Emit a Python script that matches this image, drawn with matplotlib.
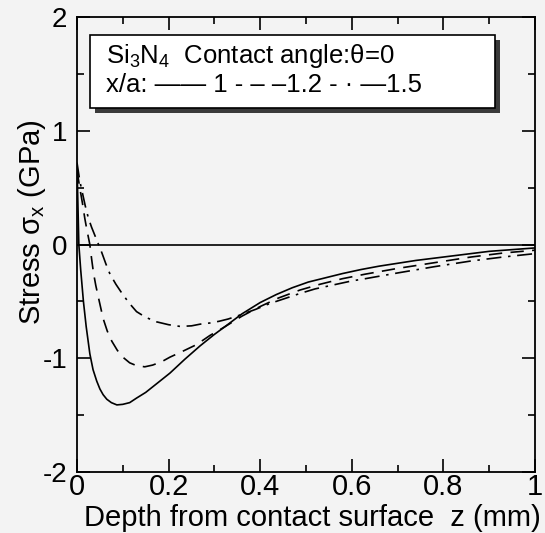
import numpy as np
import matplotlib.pyplot as plt
from matplotlib.patches import Rectangle
from matplotlib.ticker import MultipleLocator, FuncFormatter

plt.rcParams['font.family'] = ['Liberation Sans', 'DejaVu Sans']
plt.rcParams['axes.unicode_minus'] = False
plt.rcParams['mathtext.fontset'] = 'custom'
plt.rcParams['mathtext.rm'] = 'Liberation Sans'
plt.rcParams['mathtext.it'] = 'Liberation Sans'

# x/a = 1 (solid)
z1 = [0, 0.002, 0.004, 0.008, 0.014, 0.02, 0.028, 0.035, 0.043, 0.05, 0.057,
      0.065, 0.075, 0.087, 0.10, 0.115, 0.13, 0.15, 0.175, 0.203, 0.235, 0.269,
      0.30, 0.327, 0.36, 0.40, 0.435, 0.47, 0.505, 0.545, 0.58, 0.62, 0.66,
      0.70, 0.74, 0.78, 0.82, 0.86, 0.90, 0.95, 1.0]
s1 = [0.7, 0.35, 0.0, -0.22, -0.50, -0.72, -0.96, -1.10, -1.20, -1.27, -1.32,
      -1.36, -1.39, -1.41, -1.405, -1.39, -1.35, -1.30, -1.22, -1.13, -1.01, -0.89,
      -0.79, -0.71, -0.61, -0.51, -0.44, -0.38, -0.33, -0.29, -0.255, -0.22, -0.19,
      -0.165, -0.14, -0.12, -0.10, -0.08, -0.06, -0.045, -0.03]

# x/a = 1.2 (dashed)
z2 = [0, 0.006, 0.012, 0.017, 0.022, 0.028, 0.032, 0.036, 0.041, 0.047, 0.057,
      0.066, 0.076, 0.088, 0.10, 0.115, 0.13, 0.148, 0.165, 0.185, 0.203, 0.23,
      0.261, 0.29, 0.32, 0.36, 0.40, 0.44, 0.487, 0.53, 0.58, 0.63, 0.70, 0.78,
      0.86, 0.93, 1.0]
s2 = [0.65, 0.5, 0.36, 0.23, 0.12, 0.0, -0.13, -0.25, -0.36, -0.47, -0.65,
      -0.76, -0.85, -0.93, -0.99, -1.04, -1.065, -1.075, -1.06, -1.03, -0.99, -0.94,
      -0.88, -0.80, -0.73, -0.63, -0.545, -0.47, -0.40, -0.35, -0.30, -0.26, -0.21, -0.16,
      -0.11, -0.075, -0.05]

# x/a = 1.5 (dash-dot)
z3 = [0, 0.006, 0.012, 0.018, 0.025, 0.032, 0.039, 0.046, 0.054, 0.063, 0.072,
      0.085, 0.10, 0.115, 0.13, 0.15, 0.174, 0.2, 0.225, 0.25, 0.269, 0.29, 0.31,
      0.33, 0.356, 0.39, 0.42, 0.45, 0.487, 0.52, 0.56, 0.60, 0.63, 0.70, 0.78,
      0.86, 0.93, 1.0]
s3 = [0.72, 0.56, 0.45, 0.34, 0.23, 0.15, 0.08, 0.01, -0.07, -0.17, -0.26,
      -0.35, -0.44, -0.52, -0.59, -0.64, -0.68, -0.705, -0.72, -0.715, -0.70, -0.69, -0.675,
      -0.655, -0.62, -0.57, -0.52, -0.48, -0.43, -0.39, -0.355, -0.32, -0.30, -0.25, -0.195,
      -0.145, -0.11, -0.08]

bg = '#f3f3f3'
fig = plt.figure(figsize=(5.45, 5.33), dpi=100, facecolor=bg)
ax = fig.add_axes([0.1413, 0.1144, 0.8404, 0.8537])
ax.set_facecolor(bg)

ax.axhline(0, color='black', lw=1.2)
ax.plot(z1, s1, color='black', lw=1.2)
ax.plot(z2, s2, color='black', lw=1.2, dashes=(8, 5))
ax.plot(z3, s3, color='black', lw=1.2, dashes=(9, 4, 1.5, 4))

ax.set_xlim(0, 1)
ax.set_ylim(-2, 2)
ax.xaxis.set_major_locator(MultipleLocator(0.2))
ax.xaxis.set_minor_locator(MultipleLocator(0.1))
ax.yaxis.set_major_locator(MultipleLocator(1))
ax.yaxis.set_minor_locator(MultipleLocator(0.5))
ax.xaxis.set_major_formatter(FuncFormatter(lambda v, p: f'{v:g}'))
ax.yaxis.set_major_formatter(FuncFormatter(lambda v, p: f'{v:g}'))
ax.tick_params(which='both', direction='in', top=True, right=True, width=1.2)
ax.tick_params(axis='x', which='both', pad=1, labelsize=21)
ax.tick_params(axis='y', which='both', pad=7, labelsize=20)
ax.tick_params(which='major', length=9.5)
ax.tick_params(which='minor', length=5)
for sp in ax.spines.values():
    sp.set_linewidth(1.3)

ax.set_xlabel('Depth from contact surface  z (mm)', fontsize=21)
ax.xaxis.set_label_coords(0.513, -0.071, transform=ax.transAxes)
ax.xaxis.label.set_va('top')
ax.set_ylabel('Stress $\\mathregular{\\sigma_x}$ (GPa)', fontsize=21)
ax.yaxis.set_label_coords(-0.064, 0.55)

# legend box with drop shadow
ax.add_patch(Rectangle((0.039, 0.789), 0.884, 0.160, transform=ax.transAxes,
                       facecolor='#3a3a3a', edgecolor='none', zorder=4))
ax.add_patch(Rectangle((0.028, 0.800), 0.884, 0.160, transform=ax.transAxes,
                       facecolor='white', edgecolor='black', lw=1.2, zorder=5))
ax.text(0.063, 0.914, 'Si$_3$N$_4$  Contact angle:\u03b8=0', transform=ax.transAxes,
        fontsize=18.5, va='center', zorder=6)
ax.text(0.063, 0.850, 'x/a: \u2014\u2014 1 - \u2013 \u20131.2 - \u00b7 \u20141.5',
        transform=ax.transAxes, fontsize=18.5, va='center', zorder=6)

fig.savefig('out.png', dpi=100, facecolor=fig.get_facecolor())
